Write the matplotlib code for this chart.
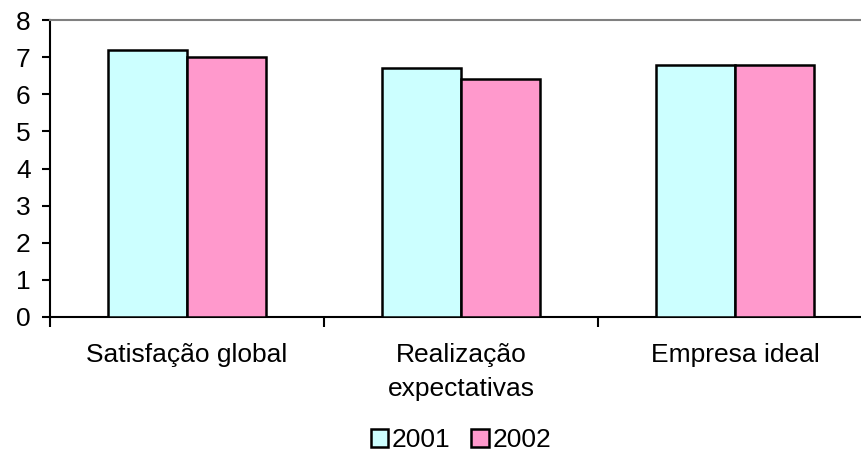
import numpy as np
import matplotlib.pyplot as plt

plt.rcParams['font.family'] = ['Liberation Sans', 'DejaVu Sans']

categories = ['Satisfação global', 'Realização\nexpectativas', 'Empresa ideal']
years = ['2001', '2002']
values_2001 = [7.2, 6.7, 6.8]
values_2002 = [7.0, 6.4, 6.8]
colors = ['#CCFFFF', '#FF99CC']

fig = plt.figure(figsize=(8.61, 4.66), dpi=100)
# plot area runs slightly past the right edge of the figure
ax = fig.add_axes([50 / 861, 1 - 317 / 466, 822 / 861, 297 / 466])

x = np.arange(len(categories))
w = 0.288
ax.bar(x - w / 2, values_2001, w, color=colors[0], edgecolor='black',
       linewidth=1.8, label=years[0], zorder=3)
ax.bar(x + w / 2, values_2002, w, color=colors[1], edgecolor='black',
       linewidth=1.8, label=years[1], zorder=3)

ax.set_xlim(-0.5, len(categories) - 0.5)
ax.set_ylim(0, 8)
ax.set_yticks(range(0, 9))

ax.set_xticks(x)
ax.set_xticklabels(categories, fontsize=19, linespacing=1.5)
ax.set_xticks(np.arange(-0.5, len(categories)), minor=True)
ax.tick_params(axis='x', which='major', length=0, pad=19)
ax.tick_params(axis='x', which='minor', length=7, width=1.5, direction='out')
ax.tick_params(axis='y', length=6, width=1.5, labelsize=19, pad=8)

for side in ['left', 'bottom']:
    ax.spines[side].set_linewidth(1.5)
ax.spines['top'].set_color('#808080')
ax.spines['top'].set_linewidth(1.5)
ax.spines['right'].set_visible(False)

ax.legend(loc='center', bbox_to_anchor=(0.5, -0.415), ncol=2, frameon=False,
          fontsize=19, handlelength=0.65, handleheight=0.65,
          handletextpad=0.15, columnspacing=0.8)

fig.savefig('out.png', dpi=100)
